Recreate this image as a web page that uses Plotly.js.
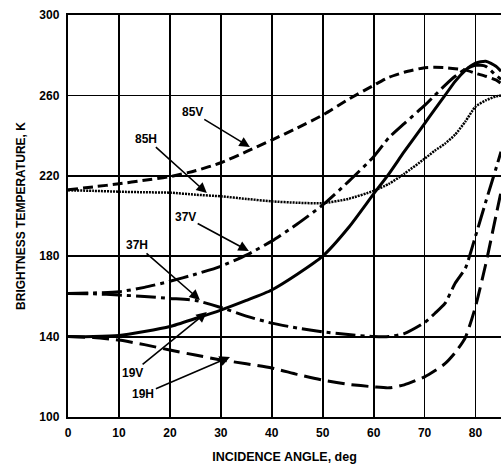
<!DOCTYPE html>
<html>
<head>
<meta charset="utf-8">
<script src="https://cdn.plot.ly/plotly-3.0.1.min.js"></script>
<style>html,body{margin:0;padding:0;background:#fff;}#chart{width:501px;height:469px;}</style>
</head>
<body>
<div id="chart"></div>
<script>
// Incidence angle, deg
const angles = [0,5,10,15,20,25,30,35,40,45,50,55,60,63,66,70,72,74,76,78,80,82,84,85];
// Brightness temperature, K
const tb19V = [140,140,140.5,142.5,145,149,153.2,158,163.2,171,180,194,211,221,232,246,253,260,267,272.5,276,277,274.5,272];
const tb19H = [140,139.5,138.3,136,133.3,130.8,128.4,126.5,124.4,121.2,118.4,116.3,115,114.5,116,120,123,126.5,132,139.5,155,176,200,212];
const tb37V = [161.5,161.7,162.3,164.5,167.5,171,175,180.5,187.5,196,205.5,217,229.5,239,246,255,260,265,269.5,273,275,274.5,270,268];
const tb37H = [161.5,161.3,160.7,160,159,158,154.5,150.2,146.7,144.3,142.4,141,140,140,141.5,147,151.5,156.5,166.5,174,190,207,223.5,232];
const tb85V = [213,214.5,216,217.8,219.6,222.5,226.5,232,237.8,243.8,250.2,258,265,269,271.5,273.8,274,273.8,273.3,272.7,271,269.5,267.7,266];
const tb85H = [212.8,212.5,212.1,211.8,211.6,210.6,209.8,208.5,207.3,206.6,206.4,208.5,212.5,216,221,228.5,232.5,236,240.5,247,254.4,257.5,259.5,260];

const seriesNames = ["19V","19H","37V","37H","85V","85H"];
const seriesValues = [tb19V, tb19H, tb37V, tb37H, tb85V, tb85H];
const seriesDash = ["solid","17px,7px","20px,5px,4px,5px","20px,5px,4px,5px","10px,5px","2px,1px"];
const seriesWidth = [3,3,3,3,3,2.5];

// label positions (text) and arrow targets, in data units
const labelText = ["85V","85H","37V","37H","19V","19H"];
const labelX = [24.4,15.4,23.1,13.5,12.6,14.8];
const labelY = [251.7,238.5,199.5,185.6,121.9,111.4];
const tipX = [35.7,27.25,35.5,25.9,27.25,31.8];
const tipY = [234.3,211.4,182.6,158.2,152.2,129.9];

const traces = seriesNames.map((n,i)=>({
  x: angles, y: seriesValues[i], name: n, type:'scatter', mode:'lines',
  line:{color:'#000', width:seriesWidth[i], dash:seriesDash[i], shape:'spline', smoothing:0.6},
  showlegend:false, hoverinfo:'skip'
}));

const fnt = {family:'Liberation Sans, Arial, sans-serif', size:12, color:'#000', weight:'bold'};

const annotations = labelText.map((t,i)=>({
  text:t, x:tipX[i], y:tipY[i], ax:labelX[i], ay:labelY[i],
  xref:'x', yref:'y', axref:'x', ayref:'y',
  showarrow:true, arrowhead:2, arrowsize:1.3, arrowwidth:1.6, arrowcolor:'#000',
  standoff:0, font:fnt
}));

const layout = {
  width:501, height:469,
  margin:{l:68, r:0, t:15, b:52},
  paper_bgcolor:'#fff', plot_bgcolor:'#fff',
  showlegend:false,
  xaxis:{
    range:[0,85], dtick:10, tick0:0,
    showgrid:true, gridcolor:'#000', gridwidth:1.8,
    showline:true, linecolor:'#000', linewidth:2.2, mirror:true,
    zeroline:false, ticks:'', ticklabelstandoff:3,
    tickfont:fnt,
    title:{text:'INCIDENCE ANGLE, deg', font:{family:'Liberation Sans, Arial, sans-serif', size:12.5, color:'#000', weight:'bold'}, standoff:14}
  },
  yaxis:{
    range:[100,300], dtick:40, tick0:100,
    showgrid:true, gridcolor:'#000', gridwidth:1.8,
    showline:true, linecolor:'#000', linewidth:2.2,
    zeroline:false, ticks:'', ticklabelstandoff:4,
    tickfont:fnt,
    title:{text:'BRIGHTNESS TEMPERATURE, K', font:{family:'Liberation Sans, Arial, sans-serif', size:12, color:'#000', weight:'bold'}, standoff:11}
  },
  annotations: annotations
};

Plotly.newPlot('chart', traces, layout, {staticPlot:true, displayModeBar:false});
</script>
</body>
</html>
